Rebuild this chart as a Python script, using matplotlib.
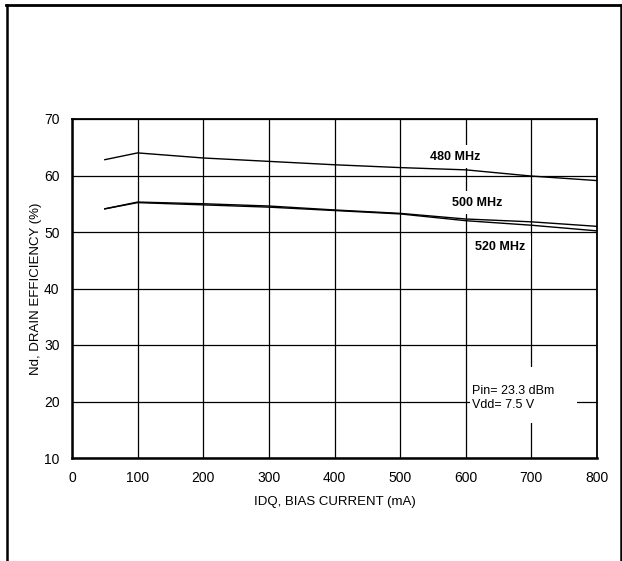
#!/usr/bin/env python3
"""
Drain efficiency vs bias current, redrawn from datasheet figure.
"""
import matplotlib
matplotlib.use('Agg')
import matplotlib.pyplot as plt
from matplotlib.lines import Line2D
from matplotlib.patches import Rectangle

plt.rcParams['font.family'] = ['Liberation Sans', 'DejaVu Sans']

# Bias current (mA)
idq = [50, 100, 200, 300, 400, 500, 600, 700, 800]

# Drain efficiency (%) per frequency
eff_480 = [62.8, 64.0, 63.1, 62.5, 61.9, 61.4, 61.0, 59.9, 59.1]
eff_500 = [54.1, 55.3, 55.0, 54.6, 53.9, 53.3, 52.3, 51.8, 51.0]
eff_520 = [54.1, 55.2, 54.8, 54.4, 53.8, 53.2, 52.0, 51.2, 50.2]

x_ticks = [0, 100, 200, 300, 400, 500, 600, 700, 800]
y_ticks = [10, 20, 30, 40, 50, 60, 70]

W, H = 622, 561
fig = plt.figure(figsize=(W / 100, H / 100), dpi=100)
ax = fig.add_axes([72 / W, 1 - 458 / H, 525 / W, 339 / H])

# curves
for eff in (eff_480, eff_500, eff_520):
    ax.plot(idq, eff, color='black', linewidth=1.0, zorder=3)

ax.set_xlim(0, 800)
ax.set_ylim(10, 70)
ax.set_xticks(x_ticks)
ax.set_yticks(y_ticks)
ax.tick_params(length=0, labelsize=10, pad=9)
ax.grid(True, color='black', linewidth=0.9)
ax.set_axisbelow(True)
for side in ('left', 'bottom'):
    ax.spines[side].set_linewidth(1.8)
for side in ('top', 'right'):
    ax.spines[side].set_linewidth(1.3)

ax.set_xlabel('IDQ, BIAS CURRENT (mA)', fontsize=9.5, labelpad=8)
ax.set_ylabel('Nd, DRAIN EFFICIENCY (%)', fontsize=9.5, labelpad=1)

# curve labels with white boxes that cut the grid
box = dict(facecolor='white', edgecolor='none', pad=4)
ax.text(584, 63.3, '480 MHz', fontsize=9, fontweight='bold',
        ha='center', va='center', bbox=box, zorder=2)
ax.text(617, 55.2, '500 MHz', fontsize=9, fontweight='bold',
        ha='center', va='center', bbox=box, zorder=2)
ax.text(652, 47.3, '520 MHz', fontsize=9, fontweight='bold',
        ha='center', va='center', bbox=box, zorder=2)

# condition note on a white panel
ax.add_patch(Rectangle((607, 16.2), 163, 9.9, facecolor='white',
                       edgecolor='none', zorder=2))
ax.text(610, 20.6, 'Pin= 23.3 dBm\nVdd= 7.5 V', fontsize=9,
        ha='left', va='center', linespacing=1.15, zorder=3)

# outer frame (top, left, right)
fig.add_artist(Line2D([6 / W, 621 / W], [1 - 5 / H, 1 - 5 / H],
                      color='black', linewidth=2.0))
fig.add_artist(Line2D([7 / W, 7 / W], [0, 1 - 5 / H],
                      color='black', linewidth=1.8))
fig.add_artist(Line2D([620.5 / W, 620.5 / W], [0, 1 - 5 / H],
                      color='black', linewidth=1.8))

fig.savefig('out.png', dpi=100)
